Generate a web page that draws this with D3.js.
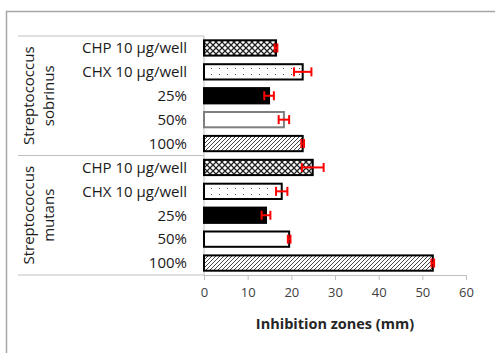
<!DOCTYPE html>
<html>
<head>
<meta charset="utf-8">
<script src="https://cdn.jsdelivr.net/npm/d3@7"></script>
<style>
  body { margin: 0; background: #fff; }
  svg { display: block; font-family: "Open Sans", "Liberation Sans", sans-serif; }
</style>
</head>
<body>
<div id="chart"></div>
<script>
// groups and treatments, listed top to bottom
const groups = ["Streptococcus sobrinus", "Streptococcus mutans"];
const treatments = ["CHP 10 µg/well", "CHX 10 µg/well", "25%", "50%", "100%"];
const sobrinusValues = [16.5, 22.6, 14.9, 18.3, 22.6];
const sobrinusErrors = [0.3, 2.0, 1.1, 1.2, 0.3];
const mutansValues = [24.9, 17.8, 14.2, 19.5, 52.4];
const mutansErrors = [2.5, 1.3, 1.0, 0.3, 0.3];
const xTicks = [0, 10, 20, 30, 40, 50, 60];

const width = 495, height = 353;
const margin = { top: 36, left: 204, right: 29, bottom: 78 };

// build rows
const rows = [];
[[sobrinusValues, sobrinusErrors], [mutansValues, mutansErrors]].forEach((s, gi) => {
    treatments.forEach((t, ti) => {
        rows.push({ key: gi + "-" + ti, group: gi, treatment: ti, label: t, value: s[0][ti], err: s[1][ti] });
    });
});

const svg = d3.select('#chart').append('svg')
    .attr('width', width)
    .attr('height', height);

// patterns
const defs = svg.append('defs');
const cross = defs.append('pattern').attr('id', 'cross')
    .attr('width', 6).attr('height', 6).attr('patternUnits', 'userSpaceOnUse');
cross.append('rect').attr('width', 6).attr('height', 6).attr('fill', '#fff');
cross.append('path').attr('d', 'M0,0L6,6M6,0L0,6').attr('stroke', '#222').attr('stroke-width', 1.3);

const dots = defs.append('pattern').attr('id', 'dots')
    .attr('width', 8).attr('height', 6).attr('patternUnits', 'userSpaceOnUse');
dots.append('rect').attr('width', 8).attr('height', 6).attr('fill', '#fff');
dots.append('rect').attr('x', 3).attr('y', 2).attr('width', 1).attr('height', 1).attr('fill', '#555');

const diag = defs.append('pattern').attr('id', 'diag')
    .attr('width', 4).attr('height', 4).attr('patternUnits', 'userSpaceOnUse');
diag.append('rect').attr('width', 4).attr('height', 4).attr('fill', '#fff');
diag.append('path').attr('d', 'M-1,5L5,-1M-1,1L1,-1M3,5L5,3').attr('stroke', '#444').attr('stroke-width', 1);

const fills = ['url(#cross)', 'url(#dots)', '#000', '#fff', 'url(#diag)'];

// outer frame
svg.append('rect')
    .attr('x', 6.5).attr('y', 11.5)
    .attr('width', width).attr('height', height)
    .attr('fill', 'none').attr('stroke', '#a6a6a6').attr('stroke-width', 1.5);

const x = d3.scaleLinear().domain([0, 60]).range([margin.left, width - margin.right]);
const y = d3.scaleBand().domain(rows.map(d => d.key))
    .range([margin.top, height - margin.bottom]).paddingInner(0.36).paddingOuter(0.18);

// x axis
const xAxis = svg.append('g')
    .attr('transform', `translate(0,${height - margin.bottom})`)
    .call(d3.axisBottom(x).tickValues(xTicks).tickSize(5).tickPadding(8));
xAxis.select('.domain').attr('stroke', '#bfbfbf');
xAxis.selectAll('.tick line').attr('stroke', '#bfbfbf');
xAxis.selectAll('.tick text').attr('font-size', 13).attr('fill', '#404040')
    .attr('font-family', '"Open Sans", sans-serif');

// category axis lines
const catAxis = svg.append('g').attr('stroke', '#bfbfbf').attr('stroke-width', 1);
catAxis.append('line')
    .attr('x1', margin.left).attr('x2', margin.left)
    .attr('y1', margin.top).attr('y2', height - margin.bottom);
const bounds = [margin.top, margin.top + 5 * (height - margin.top - margin.bottom) / 10, height - margin.bottom];
catAxis.selectAll('.gl').data(bounds).enter().append('line')
    .attr('x1', 18).attr('x2', margin.left)
    .attr('y1', d => d).attr('y2', d => d);

// bars
svg.selectAll('.bar').data(rows).enter().append('rect')
    .attr('x', x(0))
    .attr('y', d => y(d.key))
    .attr('width', d => x(d.value) - x(0))
    .attr('height', y.bandwidth())
    .attr('fill', d => fills[d.treatment])
    .attr('stroke', d => (d.group === 0 && d.treatment === 3) ? '#7f7f7f' : '#000')
    .attr('stroke-width', 2);

// error bars
const eb = svg.append('g').attr('stroke', '#ff0000').attr('stroke-width', 2);
rows.forEach(d => {
    const cy = y(d.key) + y.bandwidth() / 2;
    eb.append('line').attr('x1', x(d.value - d.err)).attr('x2', x(d.value + d.err))
        .attr('y1', cy).attr('y2', cy);
    [d.value - d.err, d.value + d.err].forEach(v => {
        eb.append('line').attr('x1', x(v)).attr('x2', x(v))
            .attr('y1', cy - 4.5).attr('y2', cy + 4.5);
    });
});

// treatment labels
svg.selectAll('.lbl').data(rows).enter().append('text')
    .attr('x', 187)
    .attr('y', d => y(d.key) + y.bandwidth() / 2)
    .attr('dy', '0.35em')
    .attr('text-anchor', 'end')
    .attr('font-size', 15)
    .attr('fill', '#1a1a1a')
    .text(d => d.label);

// group labels
groups.forEach((g, gi) => {
    const cy = (bounds[gi] + bounds[gi + 1]) / 2;
    const parts = g.split(' ');
    const t = svg.append('text')
        .attr('transform', `translate(40,${cy}) rotate(-90)`)
        .attr('text-anchor', 'middle')
        .attr('font-size', 15)
        .attr('fill', '#1a1a1a');
    t.append('tspan').attr('x', 0).attr('y', -6).text(parts[0]);
    t.append('tspan').attr('x', 0).attr('y', 14).text(parts[1]);
});

// axis title
svg.append('text')
    .attr('x', (x(0) + x(60)) / 2)
    .attr('y', 329)
    .attr('text-anchor', 'middle')
    .attr('font-size', 14.5)
    .attr('font-weight', 'bold')
    .attr('fill', '#262626')
    .text('Inhibition zones (mm)');
</script>
</body>
</html>
